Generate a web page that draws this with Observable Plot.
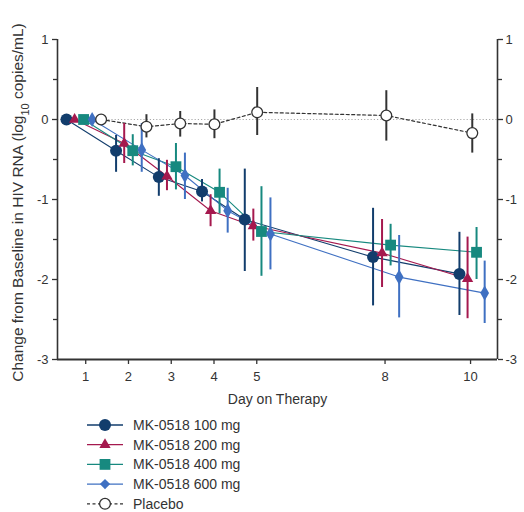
<!DOCTYPE html>
<html><head><meta charset="utf-8">
<script src="https://cdn.jsdelivr.net/npm/d3@7"></script>
<script src="https://cdn.jsdelivr.net/npm/@observablehq/plot@0.6"></script>
<style>
body{margin:0;background:#fff;font-family:"Liberation Sans",Arial,sans-serif}
#chart svg{display:block}
</style>
</head><body><div id="chart"></div><script>
// ---- data ----
const seriesNames = ["MK-0518 100 mg","MK-0518 200 mg","MK-0518 400 mg","MK-0518 600 mg","Placebo"];
// plotted x position (day, with the small dodge used in the original)
const x100 = [0.55,1.71,2.71,3.72,4.72,7.72,9.74];
const x200 = [0.74,1.90,2.90,3.92,4.92,7.93,9.93];
const x400 = [0.95,2.10,3.11,4.13,5.11,8.13,10.14];
const x600 = [1.15,2.31,3.32,4.32,5.32,8.33,10.33];
const xPla = [1.36,2.42,3.21,4.01,5.01,8.03,10.04];
// mean change from baseline
const m100 = [0,-0.39,-0.72,-0.90,-1.25,-1.72,-1.93];
const m200 = [0,-0.30,-0.71,-1.14,-1.33,-1.67,-1.99];
const m400 = [0,-0.39,-0.59,-0.91,-1.40,-1.57,-1.66];
const m600 = [0,-0.38,-0.70,-1.14,-1.43,-1.97,-2.17];
const mPla = [0,-0.09,-0.05,-0.06,0.09,0.05,-0.17];
// error bar upper / lower ends
const hi100 = [0,-0.20,-0.49,-0.75,-0.62,-1.11,-1.41];
const lo100 = [0,-0.66,-0.96,-1.03,-1.90,-2.33,-2.45];
const hi200 = [0,-0.05,-0.51,-0.94,-1.12,-1.25,-1.47];
const lo200 = [0,-0.55,-0.89,-1.34,-1.52,-2.10,-2.49];
const hi400 = [0,-0.19,-0.30,-0.62,-0.84,-1.31,-1.35];
const lo400 = [0,-0.58,-0.88,-1.18,-1.96,-1.83,-2.00];
const hi600 = [0,-0.05,-0.42,-0.86,-0.98,-1.45,-1.77];
const lo600 = [0,-0.66,-1.00,-1.42,-1.88,-2.48,-2.55];
const hiPla = [0,0.06,0.10,0.12,0.40,0.36,0.07];
const loPla = [0,-0.23,-0.22,-0.24,-0.20,-0.27,-0.42];

const xTicks = [1,2,3,4,5,8,10];
const yTicks = [1,0,-1,-2,-3];
const yMinor = [0.5,-0.5,-1.5,-2.5];
const xDomain = [0.34,10.63];
const yDomain = [-3,1];

const colors = ["#123d6c","#a5194e","#17897f","#3f70c2","#333333"];
const symbols = ["circle","triangle","square","diamond","circle"];
const radii = [6,4.2,6.1,4.6,5.4];

const xs=[x100,x200,x400,x600,xPla], ms=[m100,m200,m400,m600,mPla],
      his=[hi100,hi200,hi400,hi600,hiPla], los=[lo100,lo200,lo400,lo600,loPla];
const rows = seriesNames.map((s,i)=>xs[i].map((x,j)=>({series:s,i,x,y:ms[i][j],hi:his[i][j],lo:los[i][j]})));

const font = '"Liberation Sans",Arial,sans-serif';
const yLabel = "Change from Baseline in HIV RNA (log10 copies/mL)";

const marks = [
  Plot.ruleY([0],{stroke:"#aaa",strokeWidth:1,strokeDasharray:"1.2,2"}),
  Plot.ruleX(xDomain,{stroke:"#333",strokeWidth:1.6}),
  Plot.ruleY([yDomain[0]],{stroke:"#333",strokeWidth:2}),
  Plot.axisY({ticks:yTicks,anchor:"left",tickSize:5,tickPadding:4,tickFormat:d=>String(d),label:null,fontSize:13,strokeWidth:1.3}),
  Plot.axisY({ticks:yTicks,anchor:"right",tickSize:5,tickPadding:3,tickFormat:d=>String(d),label:null,fontSize:13,strokeWidth:1.3}),
  Plot.axisY({ticks:yMinor,anchor:"left",tickSize:4,tickFormat:()=>"",label:null,strokeWidth:1.3}),
  Plot.axisY({ticks:yMinor,anchor:"right",tickSize:4,tickFormat:()=>"",label:null,strokeWidth:1.3}),
  Plot.axisX({ticks:xTicks,anchor:"bottom",tickSize:5,tickPadding:7,tickFormat:d=>String(d),label:null,fontSize:13,strokeWidth:1.3}),
  Plot.text(["Day on Therapy"],{frameAnchor:"bottom",dy:44,fontSize:14,fill:"#333"}),
  Plot.text([yLabel],{frameAnchor:"left",dx:-39,dy:3,rotate:-90,textAnchor:"middle",fontSize:15.5,fill:"#333"})
];
// lines
rows.forEach((r,i)=>{
  marks.push(Plot.line(r,{x:"x",y:"y",stroke:colors[i],strokeWidth:i===4?1.2:1.1,
    strokeDasharray:i===4?"3,2.5":null}));
});
// error bars
rows.forEach((r,i)=>{
  marks.push(Plot.ruleX(r.slice(1),{x:"x",y1:"lo",y2:"hi",stroke:colors[i],strokeWidth:2}));
});
// markers
rows.forEach((r,i)=>{
  marks.push(Plot.dot(r,{x:"x",y:"y",symbol:()=>symbols[i],r:radii[i],
    fill:i===4?"#fff":colors[i],stroke:i===4?"#333":"none",strokeWidth:i===4?1.3:0}));
});

const plot = Plot.plot({
  width:524,height:415,
  marginTop:39,marginBottom:56,marginLeft:57,marginRight:27,
  style:{fontFamily:font,fontSize:"13px",color:"#333",background:"#fff"},
  x:{domain:xDomain},
  y:{domain:yDomain},
  symbol:{type:"identity"},
  marks
});
// subscript in the y label
d3.select(plot).selectAll("text").filter(function(){return this.textContent===yLabel;})
  .each(function(){
    const t=d3.select(this); t.text(null);
    t.attr("font-size","15.5px").attr("text-anchor","middle");
    t.append("tspan").text("Change from Baseline in HIV RNA (log");
    t.append("tspan").attr("baseline-shift","sub").attr("font-size","11px").text("10");
    t.append("tspan").text(" copies/mL)");
  });
document.getElementById("chart").appendChild(plot);

// ---- legend ----
const symMap={circle:d3.symbolCircle,triangle:d3.symbolTriangle,square:d3.symbolSquare,diamond:d3.symbolDiamond2};
const lg = d3.select("#chart").append("svg").attr("width",524).attr("height",97)
  .style("font-family",font);
seriesNames.forEach((s,i)=>{
  const g=lg.append("g").attr("transform",`translate(0,${10+i*19.7})`);
  g.append("line").attr("x1",87).attr("x2",123).attr("y1",0).attr("y2",0)
    .attr("stroke",colors[i]).attr("stroke-width",1.3)
    .attr("stroke-dasharray",i===4?"3,2.5":null);
  g.append("path").attr("transform","translate(105,0)")
    .attr("d",d3.symbol(symMap[symbols[i]],Math.PI*radii[i]*radii[i])())
    .attr("fill",i===4?"#fff":colors[i]).attr("stroke",i===4?"#333":"none").attr("stroke-width",1.3);
  g.append("text").attr("x",133).attr("y",0).attr("dy","0.35em").attr("font-size",14)
    .attr("fill","#333").text(s);
});
</script></body></html>
